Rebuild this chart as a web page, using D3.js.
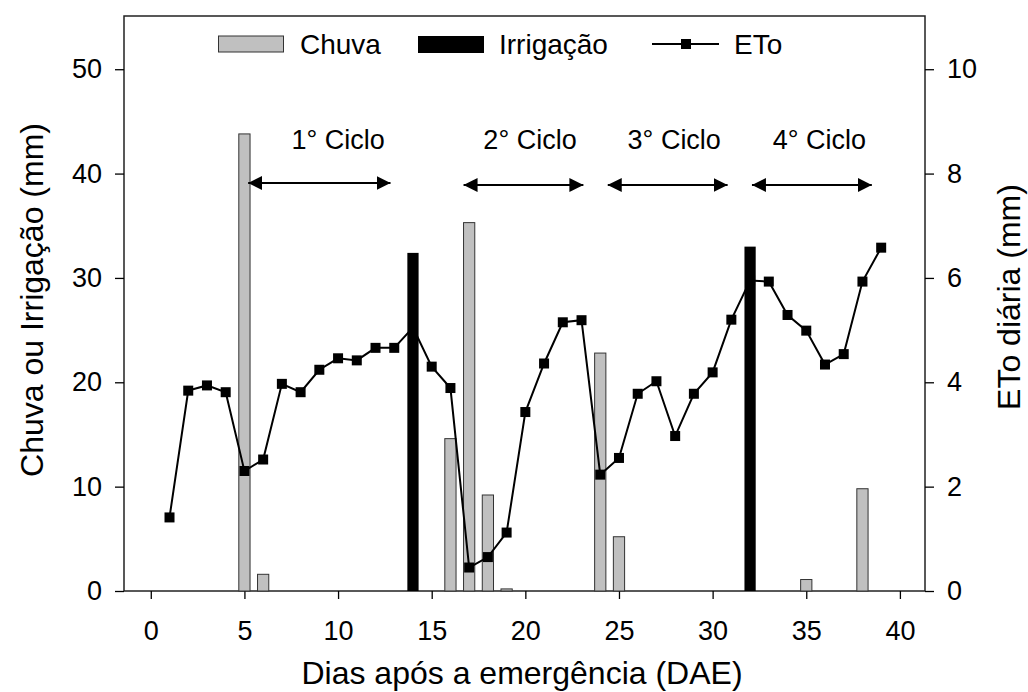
<!DOCTYPE html>
<html>
<head>
<meta charset="utf-8">
<script src="https://cdnjs.cloudflare.com/ajax/libs/d3/7.8.5/d3.min.js"></script>
<style>
    body { margin: 0; background: #fff; }
    svg text { font-family: "Liberation Sans", Arial, sans-serif; fill: #000; }
</style>
</head>
<body>
<svg id="chart" width="1028" height="692"></svg>
<script>
    // dias com chuva e valores (mm)
    var chuvaDias = [5, 6, 16, 17, 18, 19, 24, 25, 35, 38];
    var chuvaMm = [43.8, 1.6, 14.6, 35.3, 9.2, 0.2, 22.8, 5.2, 1.1, 9.8];

    // irrigações (mm)
    var irrigDias = [14, 32];
    var irrigMm = [32.4, 33.0];

    // ETo diária (mm), dias 1 a 39
    var etoDias = [1, 2, 3, 4, 5, 6, 7, 8, 9, 10, 11, 12, 13, 14, 15, 16, 17, 18, 19, 20,
        21, 22, 23, 24, 25, 26, 27, 28, 29, 30, 31, 32, 33, 34, 35, 36, 37, 38, 39];
    var etoMm = [1.41, 3.84, 3.94, 3.81, 2.30, 2.52, 3.97, 3.81, 4.24, 4.46, 4.42, 4.66, 4.66, 5.05,
        4.30, 3.89, 0.45, 0.65, 1.12, 3.43, 4.36, 5.15, 5.19, 2.23, 2.55, 3.78, 4.02, 2.97, 3.78,
        4.19, 5.20, 5.95, 5.93, 5.29, 4.99, 4.34, 4.54, 5.93, 6.58];

    // ciclos (início e fim das setas, e centro do rótulo, em dias)
    var ciclos = ['1° Ciclo', '2° Ciclo', '3° Ciclo', '4° Ciclo'];
    var cicloInicio = [5.2, 16.7, 24.4, 32.1];
    var cicloFim = [12.8, 23.1, 30.8, 38.5];
    var cicloRotulo = [10.0, 20.25, 27.95, 35.7];

    var xTicks = [0, 5, 10, 15, 20, 25, 30, 35, 40];
    var yTicks = [0, 10, 20, 30, 40, 50];
    var y2Ticks = [0, 2, 4, 6, 8, 10];

    var plotLeft = 124, plotRight = 925, plotTop = 16, plotBottom = 591;

    var svg = d3.select('#chart');

    var x = d3.scaleLinear().domain([-1.43, 41.34]).range([plotLeft, plotRight]);
    var y = d3.scaleLinear().domain([0, 55.1]).range([plotBottom, plotTop]);
    var y2 = d3.scaleLinear().domain([0, 11.02]).range([plotBottom, plotTop]);

    var barW = x(0.6) - x(0);

    //frame
    svg.append('rect')
        .attr('x', plotLeft).attr('y', plotTop)
        .attr('width', plotRight - plotLeft).attr('height', plotBottom - plotTop)
        .attr('fill', 'none').attr('stroke', '#222').attr('stroke-width', 1.5);

    //axes
    function styleAxis(g){
        g.selectAll('.domain').remove();
        g.selectAll('line').attr('stroke', '#000').attr('stroke-width', 1.3);
        g.selectAll('text').style('font-size', '27px').style('font-family', '"Liberation Sans", Arial, sans-serif');
    }

    svg.append('g')
        .attr('transform', 'translate(0,' + plotBottom + ')')
        .call(d3.axisBottom(x).tickValues(xTicks).tickSize(8).tickPadding(22))
        .call(styleAxis);

    svg.append('g')
        .attr('transform', 'translate(' + plotLeft + ',0)')
        .call(d3.axisLeft(y).tickValues(yTicks).tickSize(9).tickPadding(13))
        .call(styleAxis);

    svg.append('g')
        .attr('transform', 'translate(' + plotRight + ',0)')
        .call(d3.axisRight(y2).tickValues(y2Ticks).tickSize(9).tickPadding(13))
        .call(styleAxis);

    //chuva bars
    svg.append('g').selectAll('rect')
        .data(chuvaDias)
        .enter()
        .append('rect')
        .attr('x', function(d){return x(d) - barW / 2;})
        .attr('y', function(d, i){return y(chuvaMm[i]);})
        .attr('width', barW)
        .attr('height', function(d, i){return plotBottom - y(chuvaMm[i]);})
        .attr('fill', '#c0c0c0')
        .attr('stroke', '#333')
        .attr('stroke-width', 1);

    //ETo line
    var etoData = etoDias.map(function(d, i){return [d, etoMm[i]];});
    var line = d3.line()
        .x(function(d){return x(d[0]);})
        .y(function(d){return y2(d[1]);});

    svg.append('path')
        .datum(etoData)
        .attr('d', line)
        .attr('fill', 'none')
        .attr('stroke', '#000')
        .attr('stroke-width', 2);

    svg.append('g').selectAll('rect')
        .data(etoData)
        .enter()
        .append('rect')
        .attr('x', function(d){return x(d[0]) - 5;})
        .attr('y', function(d){return y2(d[1]) - 5;})
        .attr('width', 10)
        .attr('height', 10)
        .attr('fill', '#000');

    //irrigacao bars
    svg.append('g').selectAll('rect')
        .data(irrigDias)
        .enter()
        .append('rect')
        .attr('x', function(d){return x(d) - barW / 2;})
        .attr('y', function(d, i){return y(irrigMm[i]);})
        .attr('width', barW)
        .attr('height', function(d, i){return plotBottom - y(irrigMm[i]);})
        .attr('fill', '#000');

    //ciclos
    var defs = svg.append('defs');
    defs.append('marker')
        .attr('id', 'head')
        .attr('viewBox', '0 0 14 14')
        .attr('refX', 14).attr('refY', 7)
        .attr('markerWidth', 14).attr('markerHeight', 14)
        .attr('markerUnits', 'userSpaceOnUse')
        .attr('orient', 'auto-start-reverse')
        .append('path')
        .attr('d', 'M0,0 L14,7 L0,14 Z')
        .attr('fill', '#000');

    var ciclo = svg.append('g').selectAll('g')
        .data(ciclos)
        .enter()
        .append('g');

    ciclo.append('line')
        .attr('x1', function(d, i){return x(cicloInicio[i]);})
        .attr('x2', function(d, i){return x(cicloFim[i]);})
        .attr('y1', function(d, i){return i === 0 ? 183 : 185;})
        .attr('y2', function(d, i){return i === 0 ? 183 : 185;})
        .attr('stroke', '#000')
        .attr('stroke-width', 2)
        .attr('marker-start', 'url(#head)')
        .attr('marker-end', 'url(#head)');

    ciclo.append('text')
        .attr('x', function(d, i){return x(cicloRotulo[i]);})
        .attr('y', 149)
        .attr('text-anchor', 'middle')
        .style('font-size', '27px')
        .text(function(d){return d;});

    //legend
    var legend = svg.append('g');
    legend.append('rect')
        .attr('x', 218.5).attr('y', 36).attr('width', 65).attr('height', 16)
        .attr('fill', '#c0c0c0').attr('stroke', '#333').attr('stroke-width', 1);
    legend.append('text').attr('x', 300).attr('y', 53.5).style('font-size', '28px').text('Chuva');

    legend.append('rect')
        .attr('x', 418).attr('y', 36).attr('width', 66).attr('height', 17)
        .attr('fill', '#000');
    legend.append('text').attr('x', 499).attr('y', 53.5).style('font-size', '28px').text('Irrigação');

    legend.append('line')
        .attr('x1', 652).attr('x2', 719).attr('y1', 44).attr('y2', 44)
        .attr('stroke', '#000').attr('stroke-width', 2);
    legend.append('rect')
        .attr('x', 681).attr('y', 39).attr('width', 10).attr('height', 10)
        .attr('fill', '#000');
    legend.append('text').attr('x', 734).attr('y', 53.5).style('font-size', '28px').text('ETo');

    //axis titles
    svg.append('text')
        .attr('x', 522).attr('y', 684)
        .attr('text-anchor', 'middle')
        .style('font-size', '32px')
        .text('Dias após a emergência (DAE)');

    svg.append('text')
        .attr('transform', 'translate(43,300) rotate(-90)')
        .attr('text-anchor', 'middle')
        .style('font-size', '32px')
        .text('Chuva ou Irrigação (mm)');

    svg.append('text')
        .attr('transform', 'translate(1020,297) rotate(-90)')
        .attr('text-anchor', 'middle')
        .style('font-size', '32px')
        .text('ETo diária (mm)');
</script>
</body>
</html>
